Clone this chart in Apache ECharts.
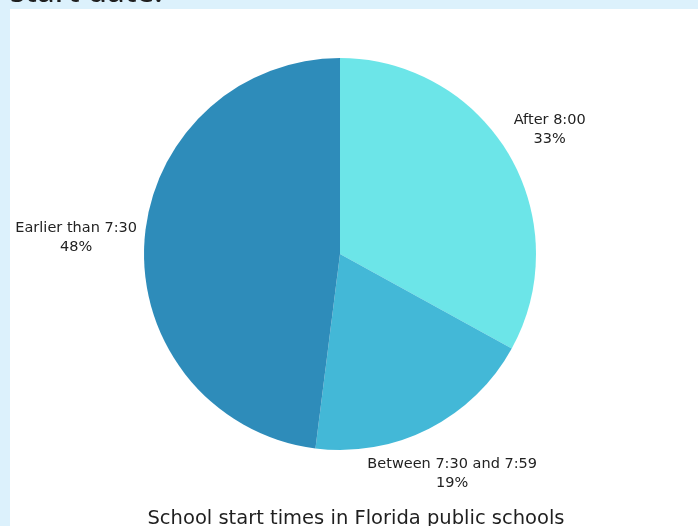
<!DOCTYPE html>
<html>
<head>
<meta charset="utf-8">
<script src="https://cdn.jsdelivr.net/npm/echarts@6/dist/echarts.min.js"></script>
<style>
html,body{margin:0;padding:0;background:#dcf1fc;}
#c{width:698px;height:526px;}
</style>
</head>
<body>
<div id="c"></div>
<script>
const categories = ['After 8:00', 'Between 7:30 and 7:59', 'Earlier than 7:30'];
const values = [33, 19, 48];
const colors = ['#6ce5e8', '#43b8d7', '#2e8cba'];
const chartTitle = 'School start times in Florida public schools';
const headingTail = 'start date.';

const CX = 340, CY = 254, R = 196, GAP = 7;
const total = values.reduce((a, b) => a + b, 0);

function midAngle(i) {
  let before = 0;
  for (let k = 0; k < i; k++) before += values[k];
  return (before + values[i] / 2) / total * Math.PI * 2;
}
function rectDist(cx, cy, hw, hh) {
  const ddx = Math.max(Math.abs(cx - CX) - hw, 0);
  const ddy = Math.max(Math.abs(cy - CY) - hh, 0);
  return Math.sqrt(ddx * ddx + ddy * ddy);
}

const chart = echarts.init(document.getElementById('c'), null, {renderer: 'canvas'});
chart.setOption({
  backgroundColor: '#dcf1fc',
  animation: false,
  graphic: [
    {type: 'rect', shape: {x: 10, y: 9, width: 700, height: 530}, style: {fill: '#ffffff'}, z: -10},
    {type: 'text', left: 10, top: -22, style: {text: headingTail, font: '500 31px "Noto Sans"', fill: '#1f1f1f'}},
    {type: 'text', x: 356, y: 509, style: {text: chartTitle, font: '19.5px "DejaVu Sans"', fill: '#1f1f1f', align: 'center', verticalAlign: 'top'}}
  ],
  series: [{
    type: 'pie',
    center: [CX, CY],
    radius: R,
    startAngle: 90,
    clockwise: true,
    data: categories.map((n, i) => ({name: n, value: values[i], itemStyle: {color: colors[i]}})),
    label: {
      show: true,
      position: 'outside',
      formatter: p => p.name + '\n' + p.value + '%',
      fontFamily: 'DejaVu Sans',
      fontSize: 14.5,
      lineHeight: 19,
      color: '#222',
      align: 'center',
      overflow: 'none',
      edgeDistance: 0
    },
    labelLine: {show: false},
    labelLayout: function (params) {
      const a = midAngle(params.dataIndex);
      const dx = Math.sin(a), dy = -Math.cos(a);
      const hw = params.labelRect.width / 2, hh = params.labelRect.height / 2;
      let lo = 0, hi = R + 400;
      for (let it = 0; it < 40; it++) {
        const mid = (lo + hi) / 2;
        if (rectDist(CX + dx * mid, CY + dy * mid, hw, hh) >= R + GAP) hi = mid; else lo = mid;
      }
      return {x: CX + dx * hi, y: CY + dy * hi, align: 'center', verticalAlign: 'middle'};
    },
    emphasis: {disabled: true}
  }]
});
</script>
</body>
</html>
